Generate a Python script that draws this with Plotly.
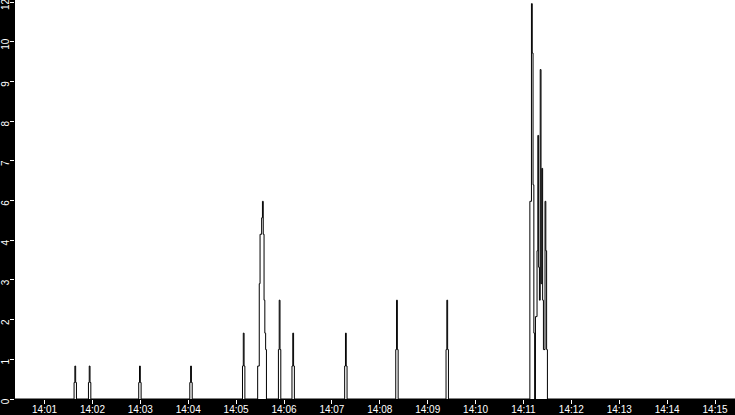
import plotly.graph_objects as go

# Requests per second, sampled once a second (step line)
day = '2024-01-01 '
times = [
    '14:01:37', '14:01:38', '14:01:39', '14:01:40',
    '14:01:55', '14:01:56', '14:01:57', '14:01:58',
    '14:02:58', '14:02:59', '14:03:00', '14:03:01',
    '14:04:02', '14:04:03', '14:04:04', '14:04:05',
    '14:05:08', '14:05:09', '14:05:10', '14:05:11',
    '14:05:27', '14:05:29', '14:05:30', '14:05:32', '14:05:33',
    '14:05:34', '14:05:35', '14:05:36', '14:05:37', '14:05:38',
    '14:05:53', '14:05:54', '14:05:55', '14:05:56',
    '14:06:10', '14:06:11', '14:06:12', '14:06:13',
    '14:07:16', '14:07:17', '14:07:18', '14:07:19',
    '14:08:20', '14:08:21', '14:08:22', '14:08:23',
    '14:09:23', '14:09:24', '14:09:25', '14:09:26',
    '14:11:08', '14:11:10', '14:11:11', '14:11:12', '14:11:13',
    '14:11:14', '14:11:15', '14:11:17', '14:11:18', '14:11:19',
    '14:11:20', '14:11:21', '14:11:22', '14:11:23', '14:11:24',
    '14:11:25', '14:11:27', '14:11:28', '14:11:29', '14:11:30',
]
values = [
    0.5, 1.0, 0.5, 0,
    0.5, 1.0, 0.5, 0,
    0.5, 1.0, 0.5, 0,
    0.5, 1.0, 0.5, 0,
    1.0, 2.0, 1.0, 0,
    1.0, 3.5, 5.0, 5.5, 6.0,
    5.0, 3.0, 2.0, 1.5, 0,
    1.5, 3.0, 1.5, 0,
    1.0, 2.0, 1.0, 0,
    1.0, 2.0, 1.0, 0,
    1.5, 3.0, 1.5, 0,
    1.5, 3.0, 1.5, 0,
    6.0, 12.0, 10.5, 6.5, 2.0,
    0, 2.5, 4.5, 8.0, 4.0,
    3.0, 10.0, 3.5, 7.0, 3.0,
    1.5, 6.0, 4.5, 1.5, 0,
]

y_max = 12.05
y_tick_text = ['0', '1', '2', '3', '4', '6', '7', '8', '9', '10', '12']
y_tick_vals = [y_max * i / 10 for i in range(11)]

x = [day + t for t in times]

fig = go.Figure()
fig.add_trace(go.Scatter(
    x=[day + '14:00:23'] + x + [day + '14:15:25'],
    y=[0] + values + [0],
    mode='lines',
    line=dict(color='black', width=1, shape='hv'),
    hoverinfo='skip',
))

tick_font = dict(family='Liberation Sans', size=10, color='white')

fig.update_layout(
    width=735,
    height=415,
    margin=dict(l=15, r=0, t=0, b=16, autoexpand=False),
    paper_bgcolor='black',
    plot_bgcolor='white',
    showlegend=False,
    xaxis=dict(
        type='date',
        range=[day + '14:00:23', day + '14:15:25'],
        tick0=day + '14:01:00',
        dtick=60000,
        tickformat='%H:%M',
        ticks='outside',
        ticklen=4,
        tickcolor='white',
        tickfont=tick_font,
        ticklabelstandoff=-3,
        ticklabeloverflow='allow',
        showgrid=False,
        zeroline=False,
        showline=False,
        automargin=False,
    ),
    yaxis=dict(
        range=[0, y_max * 399 / 397],
        tickvals=y_tick_vals,
        ticktext=y_tick_text,
        tickangle=-90,
        ticklabelshift=4,
        ticklabelstandoff=-3,
        ticklabeloverflow='allow',
        ticks='outside',
        ticklen=4,
        tickcolor='white',
        tickfont=tick_font,
        showgrid=False,
        zeroline=False,
        showline=False,
        automargin=False,
    ),
)

# the page body has a default margin; drop it so the chart sits at 0,0
fig.write_html('out.html', config={'displayModeBar': False},
               post_script="document.body.style.margin='0';")
